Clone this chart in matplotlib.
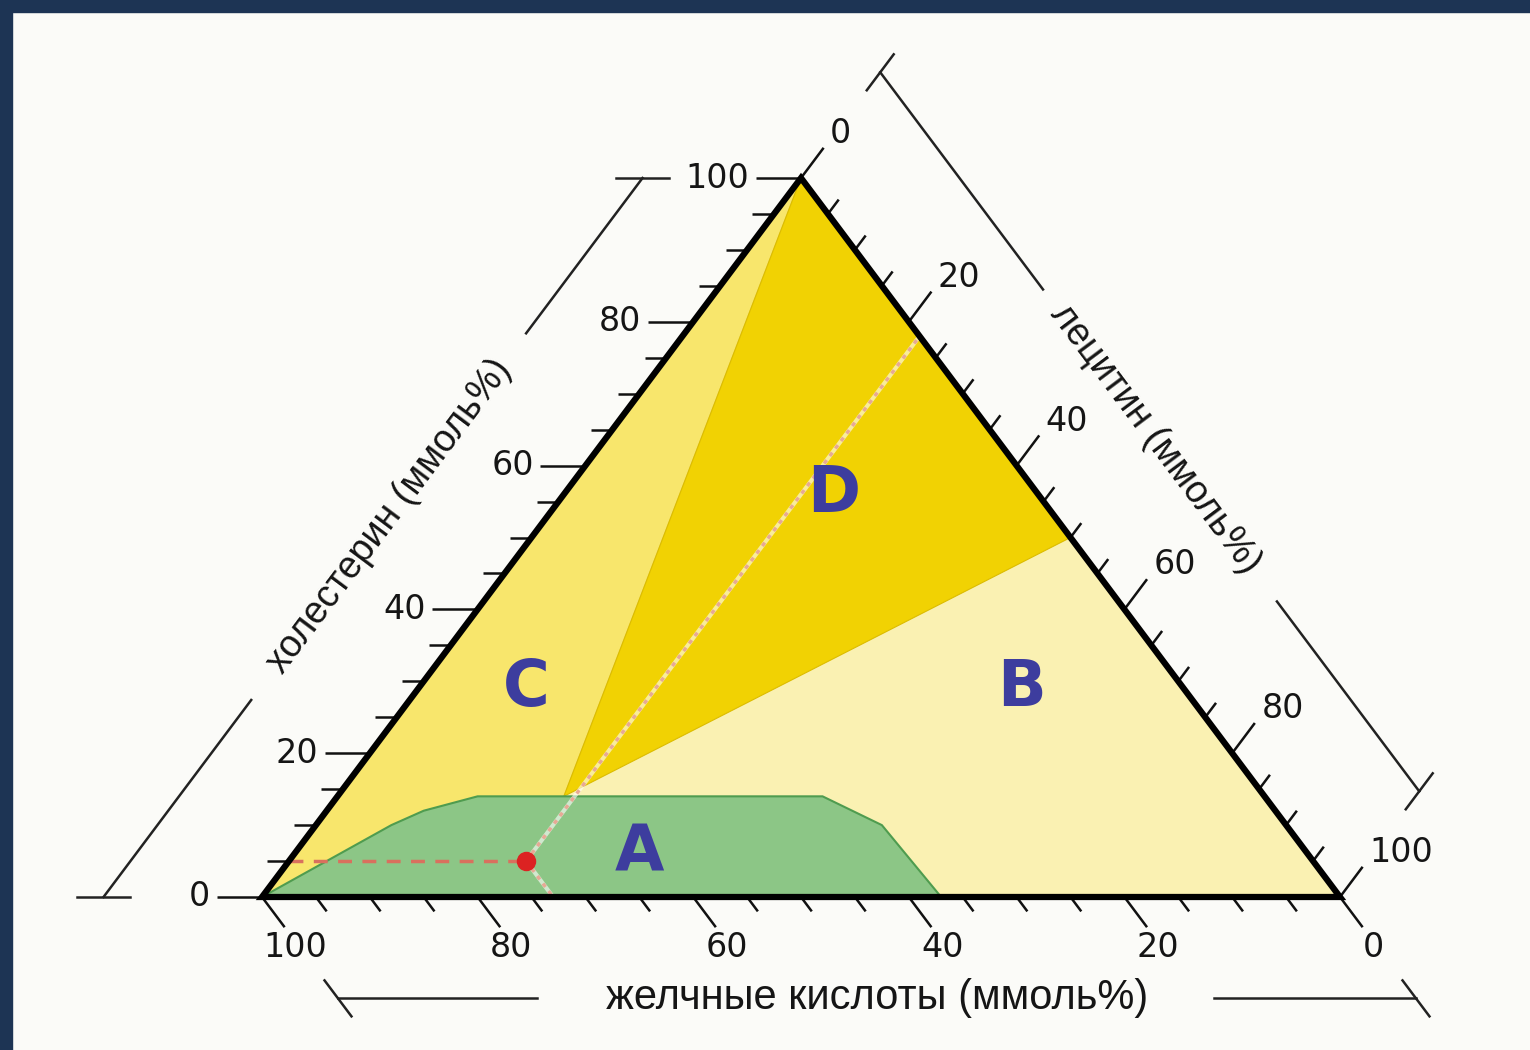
import numpy as np
from matplotlib import pyplot as plt
from matplotlib.patches import Polygon, Rectangle

# compositions in mmol% (lecithin, cholesterol); bile acids = 100 - the rest
zone_a_lec = [0, 7, 9, 11, 13, 45, 52.5, 63]
zone_a_chol = [0, 10, 12, 13, 14, 14, 10, 0]
zone_c_lec = [0, 0, 21]
zone_c_chol = [0, 100, 14]
zone_d_lec = [0, 50, 21]
zone_d_chol = [100, 50, 14]

zone_names = ["A", "B", "C", "D"]
zone_name_lec = [32, 56, 10, 25]
zone_name_chol = [6, 29, 29, 56]

sample_bile = 73
sample_lec = 22
sample_chol = 5

tick_values = np.arange(0, 101, 5)
major_values = [0, 20, 40, 60, 80, 100]

label_bile = "желчные кислоты (ммоль%)"
label_lec = "лецитин (ммоль%)"
label_chol = "холестерин (ммоль%)"


def to_xy(lec, chol):
    lec = np.asarray(lec, dtype=float)
    chol = np.asarray(chol, dtype=float)
    return (lec + chol / 2) / 100, chol / 100


# outward direction of the ticks on each side
DIRS = {"chol": np.array([-1.0, 0.0]),
        "bile": np.array([0.5, -1.0]),
        "lec": np.array([0.5, 1.0])}


def edge_point(side, v):
    if side == "chol":
        x, y = to_xy(0, v)
    elif side == "bile":
        x, y = to_xy(100 - v, 0)
    else:
        x, y = to_xy(v, 100 - v)
    return np.array([float(x), float(y)])


fig = plt.figure(figsize=(15.3, 10.5), dpi=100)
fig.patch.set_facecolor("#fbfbf8")
fig.patches.append(Rectangle((0, 1 - 12 / 1050), 1, 12 / 1050, transform=fig.transFigure,
                             color="#1d3454", zorder=10))
fig.patches.append(Rectangle((0, 0), 12 / 1530, 1, transform=fig.transFigure,
                             color="#1d3454", zorder=10))

ax = fig.add_axes([0, 0, 1, 1])
ax.set_xlim(-262 / 1078, 1268 / 1078)
ax.set_ylim(-153 / 719, 897 / 719)
ax.axis("off")

# zones
tri_x, tri_y = to_xy([0, 100, 0], [0, 0, 100])
ax.add_patch(Polygon(np.c_[tri_x, tri_y], closed=True, fc="#faf1b2", ec="none"))
cx, cy = to_xy(zone_c_lec, zone_c_chol)
ax.add_patch(Polygon(np.c_[cx, cy], closed=True, fc="#f8e66c", ec="#e6cf4a", lw=0.8))
dx, dy = to_xy(zone_d_lec, zone_d_chol)
ax.add_patch(Polygon(np.c_[dx, dy], closed=True, fc="#f1d203", ec="#dcbc00", lw=0.8))
axx, ayy = to_xy(zone_a_lec, zone_a_chol)
ax.add_patch(Polygon(np.c_[axx, ayy], closed=True, fc="#8cc686", ec="#4f9c4f", lw=1.5))

# reading lines through the sample point
px, py = to_xy(sample_lec, sample_chol)
lx, ly = to_xy([sample_lec, sample_lec], [sample_chol, 100 - sample_lec])
bx, by = to_xy([sample_lec, 100 - sample_bile], [sample_chol, 0])
for xs, ys in [(lx, ly), (bx, by)]:
    ax.plot(xs, ys, color="white", lw=3, alpha=0.6, zorder=3)
    ax.plot(xs, ys, color="#e7a995", lw=2.5, ls=(0, (1.2, 1.5)), zorder=3)
hx, hy = to_xy([0, sample_lec], [sample_chol, sample_chol])
ax.plot(hx, hy, color="#d9705e", lw=2.5, ls=(0, (4, 3)), zorder=3)
ax.plot(px, py, "o", color="#dc2222", ms=13, zorder=4)

for name, l, c in zip(zone_names, zone_name_lec, zone_name_chol):
    x, y = to_xy(l, c)
    ax.text(x, y, name, fontsize=46, fontweight="bold", color="#3d3d9e",
            ha="center", va="center", zorder=5)

# frame
ax.add_patch(Polygon(np.c_[tri_x, tri_y], closed=True, fill=False, ec="black",
                     lw=4.5, joinstyle="miter", zorder=6))

# ticks and tick labels
for side in ["chol", "bile", "lec"]:
    d = DIRS[side]
    for v in tick_values:
        p = edge_point(side, v)
        L = 0.042 if v in major_values else 0.02
        q = p + L * d
        ax.plot([p[0], q[0]], [p[1], q[1]], color="#111111", lw=1.8,
                solid_capstyle="butt", zorder=5)
    for v in major_values:
        p = edge_point(side, v)
        if side == "chol":
            q = p + 0.048 * d
            ax.text(q[0], q[1], str(v), fontsize=24, color="#151515", ha="right", va="center")
        elif side == "bile":
            q = p + 0.07 * d
            ax.text(q[0] - 0.004, q[1], str(v), fontsize=24, color="#151515", ha="center", va="center")
        else:
            q = p + 0.062 * d
            ax.text(q[0] - 0.004, q[1], str(v), fontsize=24, color="#151515", ha="left", va="center")

# scale bars with the axis titles
OFF = 0.147
bar_parts = {"chol": [(0, 27.4), (78.4, 100)],
             "bile": [(100, 81.5), (18.7, 0)],
             "lec": [(0, 30.2), (73.6, 100)]}
bar_titles = {"chol": (label_chol, 53, 27), "bile": (label_bile, 50, 30), "lec": (label_lec, 51, 27)}

p0 = ax.transData.transform((0, 0))
p1 = ax.transData.transform((0.5, 1))
edge_angle = np.degrees(np.arctan2(p1[1] - p0[1], p1[0] - p0[0]))
angles = {"chol": edge_angle, "bile": 0, "lec": -edge_angle}

for side, parts in bar_parts.items():
    d = DIRS[side]
    off = OFF - 0.006 if side == "bile" else OFF
    for a, b in parts:
        pa = edge_point(side, a) + off * d
        pb = edge_point(side, b) + off * d
        ax.plot([pa[0], pb[0]], [pa[1], pb[1]], color="#222222", lw=1.8)
    for v in [0, 100]:
        c = edge_point(side, v) + off * d
        ax.plot([c[0] - 0.025 * d[0], c[0] + 0.025 * d[0]],
                [c[1] - 0.025 * d[1], c[1] + 0.025 * d[1]], color="#222222", lw=1.8)
    text, v, size = bar_titles[side]
    c = edge_point(side, v) + off * d
    ax.text(c[0], c[1], text, fontsize=size, color="#151515", rotation=angles[side],
            rotation_mode="anchor", ha="center", va="center",
            family=["Liberation Sans Narrow", "Liberation Sans", "DejaVu Sans"])

fig.savefig("out.png", dpi=100, facecolor=fig.get_facecolor())
